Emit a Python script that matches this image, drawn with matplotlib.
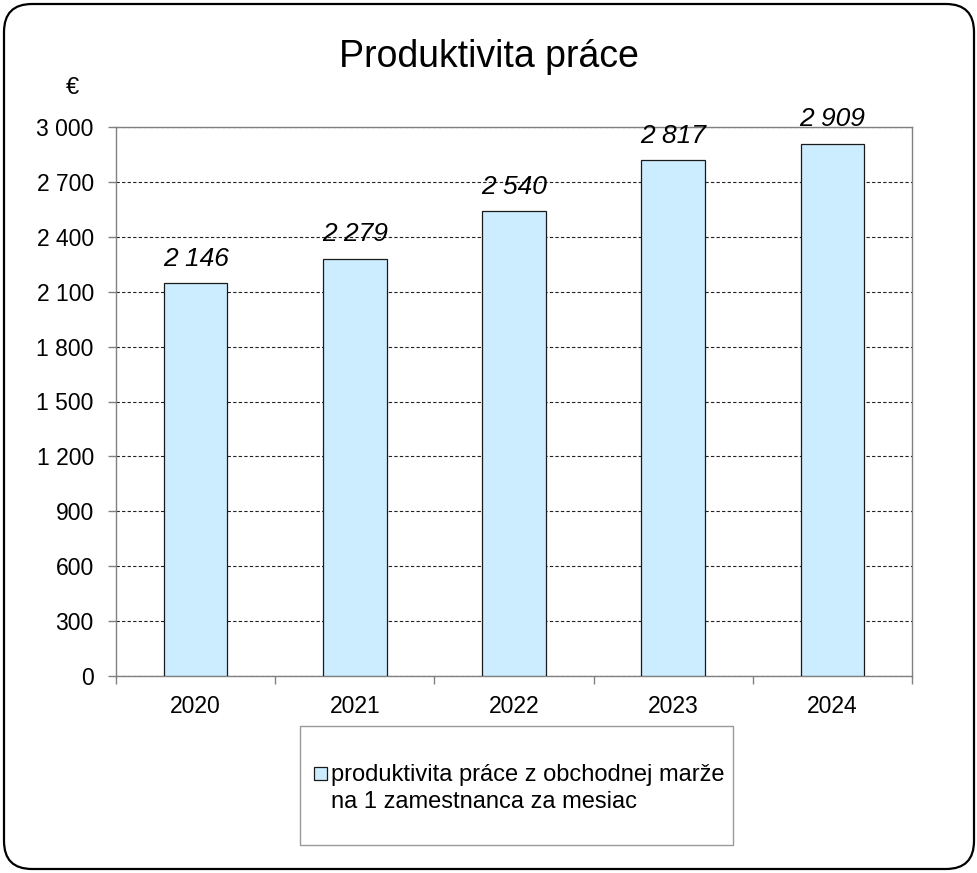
import matplotlib.pyplot as plt
from matplotlib.patches import FancyBboxPatch, Rectangle
from matplotlib.ticker import FuncFormatter, MultipleLocator
from matplotlib.transforms import IdentityTransform

# data
years = ['2020', '2021', '2022', '2023', '2024']
values = [2146, 2279, 2540, 2817, 2909]
legend_label = 'produktivita práce z obchodnej marže\nna 1 zamestnanca za mesiac'
title = 'Produktivita práce'
unit = '€'

bar_color = '#CCECFF'
W, H = 978, 873

plt.rcParams['font.family'] = ['Liberation Sans', 'DejaVu Sans']


def space_thousands(v, pos=None):
    return f'{int(round(v)):,}'.replace(',', ' ')


fig = plt.figure(figsize=(W / 100, H / 100), dpi=100)
ax = fig.add_axes([116 / W, 1 - 676 / H, (912 - 116) / W, (676 - 127) / H])

x = list(range(len(years)))
bars = ax.bar(x, values, width=0.4, color=bar_color, edgecolor='#1a1a1a',
              linewidth=0.9, zorder=3)
ax.bar_label(bars, labels=[space_thousands(v) for v in values], padding=9,
             fontsize=19, fontstyle='italic', color='black')

ax.set_xlim(-0.5, len(years) - 0.5)
ax.set_ylim(0, 3000)
ax.yaxis.set_major_locator(MultipleLocator(300))
ax.yaxis.set_major_formatter(FuncFormatter(space_thousands))
ax.grid(axis='y', color='#222222', linestyle=(0, (3, 2)), linewidth=0.8, zorder=1)

ax.set_xticks(x)
ax.set_xticklabels(years)
ax.set_xticks([i - 0.5 for i in range(len(years) + 1)], minor=True)
ax.tick_params(axis='x', which='major', length=0, pad=14, labelsize=16.5)
ax.tick_params(axis='x', which='minor', length=6, color='#808080', width=1)
ax.tick_params(axis='y', length=6, color='#808080', width=1, pad=10, labelsize=16.5)

for s in ax.spines.values():
    s.set_color('#808080')
    s.set_linewidth(1)

fig.text(0.5, 1 - 57 / H, title, ha='center', va='center', fontsize=27)
fig.text(72 / W, 1 - 88 / H, unit, ha='center', va='center', fontsize=17)

# legend box
fig.add_artist(Rectangle((300, H - 845), 433, 119, transform=IdentityTransform(),
                         facecolor='white', edgecolor='#999999', linewidth=1))
fig.add_artist(Rectangle((314, H - 780), 13, 13, transform=IdentityTransform(),
                         facecolor=bar_color, edgecolor='#1a1a1a', linewidth=0.9))
fig.text(331 / W, 1 - 764 / H, legend_label, ha='left', va='top',
         fontsize=17, linespacing=1.3)

# rounded outer border
fig.add_artist(FancyBboxPatch((4, 4), W - 8, H - 8, boxstyle='round,pad=0,rounding_size=28',
                              transform=IdentityTransform(), facecolor='none',
                              edgecolor='black', linewidth=1.6))

fig.savefig('out.png', dpi=100)
